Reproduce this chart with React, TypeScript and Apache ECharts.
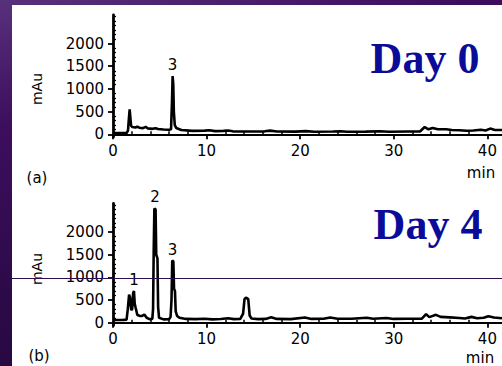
import React, { useEffect, useRef } from "react";
import * as echarts from "echarts";

// Retention time (min) / absorbance (mAu) pairs
const day0Trace: number[][] = [
  [0, 25], [0.8, 25], [1.45, 28], [1.6, 80], [1.7, 350], [1.78, 550], [1.85, 380], [1.93, 190],
  [2.05, 160], [2.4, 150], [2.6, 170], [2.8, 145], [3.2, 135], [3.5, 165], [3.7, 130], [4.2, 120],
  [4.55, 135], [4.8, 115], [5.4, 105], [6.0, 100], [6.2, 110], [6.3, 700], [6.37, 1284], [6.44, 1100],
  [6.5, 500], [6.6, 200], [6.75, 140], [7.3, 95], [8.5, 75], [9.8, 80], [10.3, 90], [10.9, 70],
  [11.8, 75], [12.3, 85], [12.8, 65], [14.5, 60], [16.2, 65], [16.8, 80], [17.5, 62], [19.5, 58],
  [20.6, 70], [21.5, 55], [23.5, 60], [24.3, 68], [25, 55], [27, 58], [28.5, 66], [29.5, 55],
  [31.5, 60], [32.8, 62], [33.3, 160], [33.7, 110], [34.15, 140], [34.7, 110], [35.6, 110],
  [36.2, 95], [37, 88], [37.8, 78], [38.5, 82], [39.3, 100], [39.8, 85], [40.3, 125], [40.8, 95],
  [41.56, 95]
];

const day4Trace: number[][] = [
  [0, 60], [1.0, 60], [1.45, 70], [1.58, 300], [1.72, 620], [1.82, 560], [1.95, 280], [2.05, 300],
  [2.15, 650], [2.24, 700], [2.32, 420], [2.42, 330], [2.6, 170], [2.9, 150], [3.1, 150], [3.35, 180],
  [3.6, 110], [3.9, 80], [4.2, 85], [4.28, 300], [4.35, 1600], [4.42, 2520], [4.55, 2500], [4.62, 1500],
  [4.75, 1420], [4.82, 350], [4.92, 110], [5.4, 75], [6.0, 80], [6.15, 130], [6.25, 500], [6.33, 1371],
  [6.45, 1350], [6.52, 750], [6.62, 700], [6.7, 250], [6.85, 150], [7.1, 110], [7.8, 85], [8.8, 80],
  [9.8, 90], [10.6, 75], [11.5, 85], [12.3, 100], [12.9, 80], [13.6, 85], [13.9, 200], [14.05, 520],
  [14.2, 555], [14.45, 520], [14.6, 160], [14.8, 95], [15.5, 80], [16.3, 85], [16.9, 120], [17.5, 85],
  [19, 80], [20.5, 115], [21.2, 85], [22.5, 90], [23.2, 115], [24, 88], [25.5, 90], [27.1, 110],
  [27.8, 88], [29.2, 105], [30, 85], [31.5, 88], [33, 90], [33.45, 190], [33.8, 125], [34.5, 175],
  [35.0, 130], [36, 120], [37, 105], [37.6, 95], [38.3, 130], [38.9, 100], [39.6, 110], [40.1, 145],
  [40.7, 115], [41.56, 100]
];

const day0PeakLabels = [{ name: "3", coord: [6.37, 1284] }];
const day4PeakLabels = [
  { name: "1", coord: [2.24, 700] },
  { name: "2", coord: [4.48, 2520] },
  { name: "3", coord: [6.37, 1371] }
];

const xMajorTicks = [0, 10, 20, 30, 40];
const xMinorTicks = [2, 4, 6, 8, 12, 14, 16, 18, 22, 24, 26, 28, 32, 34, 36, 38];
const yMajorTicks = [0, 500, 1000, 1500, 2000];
const yMinorTicks = [100, 200, 300, 400, 600, 700, 800, 900, 1100, 1200, 1300, 1400, 1600, 1700, 1800, 1900,
  2100, 2200, 2300, 2400, 2500, 2600];

const X_MIN = 0;
const X_MAX = 41.56;
const Y_MIN = -60;
const Y_MAX = 2630;

const AXIS_FONT = "DejaVu Sans";

function xAxes(gridIndex: number) {
  return [
    {
      type: "value", gridIndex, min: X_MIN, max: X_MAX,
      axisLine: { show: true, lineStyle: { color: "#000", width: 2.2 } },
      axisTick: { show: true, customValues: xMajorTicks, length: 5, lineStyle: { color: "#000", width: 1.8 } },
      axisLabel: {
        show: true, customValues: xMajorTicks, margin: 6, color: "#000", fontSize: 15, fontFamily: AXIS_FONT,
        formatter: (v: number) => String(v)
      },
      splitLine: { show: false }
    },
    {
      type: "value", gridIndex, min: X_MIN, max: X_MAX,
      axisLine: { show: false },
      axisTick: { show: true, customValues: xMinorTicks, length: 3, lineStyle: { color: "#000", width: 1.5 } },
      axisLabel: { show: false },
      splitLine: { show: false }
    }
  ];
}

function yAxes(gridIndex: number) {
  return [
    {
      type: "value", gridIndex, min: Y_MIN, max: Y_MAX,
      axisLine: { show: true, lineStyle: { color: "#000", width: 2.8 } },
      axisTick: { show: true, customValues: yMajorTicks, length: 5, lineStyle: { color: "#000", width: 1.8 } },
      axisLabel: {
        show: true, customValues: yMajorTicks, margin: 9, color: "#000", fontSize: 15, fontFamily: AXIS_FONT,
        formatter: (v: number) => String(v)
      },
      splitLine: { show: false }
    },
    {
      type: "value", gridIndex, min: Y_MIN, max: Y_MAX,
      axisLine: { show: false },
      axisTick: { show: true, customValues: yMinorTicks, length: 3, lineStyle: { color: "#000", width: 1.3 } },
      axisLabel: { show: false },
      splitLine: { show: false }
    }
  ];
}

function traceSeries(data: number[][], axisIndex: number, peaks: { name: string; coord: number[] }[]) {
  return {
    type: "line",
    xAxisIndex: axisIndex,
    yAxisIndex: axisIndex,
    data,
    showSymbol: false,
    symbol: "none",
    lineStyle: { color: "#000", width: 2.6 },
    markPoint: {
      symbol: "circle",
      symbolSize: 1,
      itemStyle: { color: "rgba(0,0,0,0)" },
      label: {
        show: true, position: "top", distance: 3, formatter: "{b}",
        color: "#000", fontSize: 15, fontFamily: AXIS_FONT
      },
      data: peaks.map((p) => ({ name: p.name, coord: p.coord }))
    }
  };
}

export default function App() {
  const ref = useRef<HTMLDivElement>(null);
  useEffect(() => {
    if (!ref.current) return;
    const chart = echarts.init(ref.current, undefined, { renderer: "svg" });
    const textStyle = (font: string) => ({ fill: "#000", font });
    chart.setOption({
      animation: false,
      backgroundColor: "transparent",
      grid: [
        { left: 113, right: 0, top: 15, height: 122 },
        { left: 113, right: 0, top: 203.5, height: 122 }
      ],
      xAxis: [...xAxes(0), ...xAxes(1)],
      yAxis: [...yAxes(0), ...yAxes(1)],
      series: [
        traceSeries(day0Trace, 0, day0PeakLabels),
        traceSeries(day4Trace, 2, day4PeakLabels)
      ],
      graphic: [
        { type: "text", x: 425, y: 58, z: 50, style: { text: "Day 0", fill: "#0b0b99", font: "bold 44px 'Liberation Serif'", align: "center", verticalAlign: "middle" } },
        { type: "text", x: 428, y: 224, z: 50, style: { text: "Day 4", fill: "#0b0b99", font: "bold 44px 'Liberation Serif'", align: "center", verticalAlign: "middle" } },
        { type: "text", x: 37, y: 89, rotation: Math.PI / 2, z: 50, style: { ...textStyle(`14px '${AXIS_FONT}'`), text: "mAu", align: "center", verticalAlign: "middle" } },
        { type: "text", x: 37, y: 269, rotation: Math.PI / 2, z: 50, style: { ...textStyle(`14px '${AXIS_FONT}'`), text: "mAu", align: "center", verticalAlign: "middle" } },
        { type: "text", x: 37, y: 178, z: 50, style: { ...textStyle(`15px '${AXIS_FONT}'`), text: "(a)", align: "center", verticalAlign: "middle" } },
        { type: "text", x: 39, y: 356, z: 50, style: { ...textStyle(`15px '${AXIS_FONT}'`), text: "(b)", align: "center", verticalAlign: "middle" } },
        { type: "text", x: 481, y: 173, z: 50, style: { ...textStyle(`15px '${AXIS_FONT}'`), text: "min", align: "center", verticalAlign: "middle" } },
        { type: "text", x: 480, y: 358, z: 50, style: { ...textStyle(`15px '${AXIS_FONT}'`), text: "min", align: "center", verticalAlign: "middle" } },
        { type: "line", z: 100, shape: { x1: 0, y1: 278.5, x2: 502, y2: 278.5 }, style: { stroke: "#2b0c4c", lineWidth: 1 } }
      ]
    });
    return () => chart.dispose();
  }, []);

  return (
    <div style={{ position: "fixed", left: 0, top: 0, width: 502, height: 366, overflow: "hidden",
      background: "linear-gradient(165deg, #58317c 0%, #3d0e5e 25%, #2c0a48 60%, #1f0734 100%)" }}>
      <div style={{ position: "absolute", left: 12, top: 5, right: 0, bottom: 0, background: "#ffffff" }} />
      <div ref={ref} style={{ position: "absolute", left: 0, top: 0, width: 502, height: 366 }} />
    </div>
  );
}
